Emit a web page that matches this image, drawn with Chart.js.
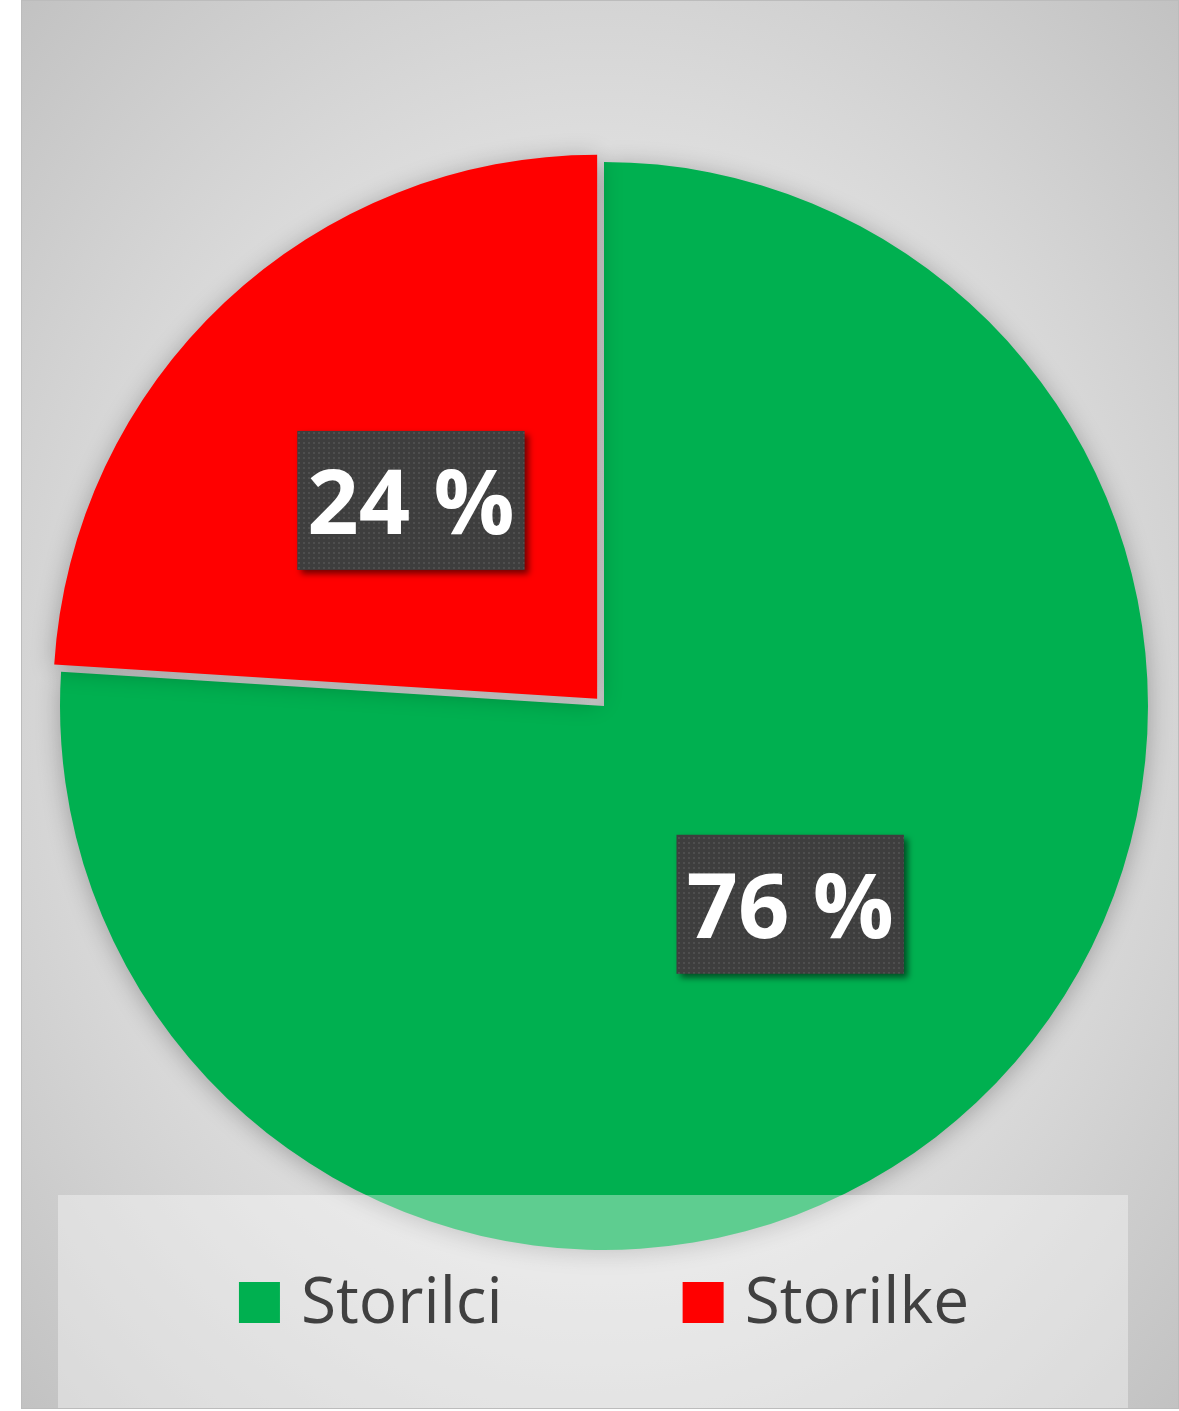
<!DOCTYPE html>
<html>
<head>
<meta charset="utf-8">
<script src="https://cdn.jsdelivr.net/npm/chart.js@4.4.1/dist/chart.umd.min.js"></script>
<style>
  html, body { margin: 0; padding: 0; background: #fff; }
  #frame {
    position: absolute; left: 21px; top: 0; width: 1158px; height: 1409px;
    box-sizing: border-box; border: 1px solid #bcbcbc;
    background: radial-gradient(ellipse farthest-corner at 50% 50%, #e9e9e9 0%, #e1e1e1 50%, #c2c2c2 100%);
  }
  #wrap { position: absolute; left: 0; top: 0; width: 1156px; height: 1407px; }
</style>
</head>
<body>
<div id="frame"><div id="wrap"><canvas id="pieChart"></canvas></div></div>
<script>
const categories = ['Storilci', 'Storilke'];
const shares = [76, 24];
const sliceColors = ['#00b050', '#ff0000'];
const sliceOffsets = [0, 40];

// small dotted tile for the label boxes
function makeDots() {
    const tile = document.createElement('canvas');
    tile.width = 5; tile.height = 5;
    const g = tile.getContext('2d');
    g.fillStyle = '#3e3e3e';
    g.fillRect(0, 0, 5, 5);
    g.fillStyle = '#4e4e4e';
    g.fillRect(1, 1, 2, 2);
    return tile;
}

// soft shadow under the pie
const pieShadow = {
    id: 'pieShadow',
    beforeDatasetsDraw(chart) {
        const c = chart.ctx;
        c.save();
        c.shadowColor = 'rgba(0,0,0,0.28)';
        c.shadowBlur = 24;
        c.shadowOffsetY = 3;
    },
    afterDatasetsDraw(chart) {
        chart.ctx.restore();
    }
};

// dark boxes with the percentages
const pctLabels = {
    id: 'pctLabels',
    afterDraw(chart) {
        const c = chart.ctx;
        const meta = chart.getDatasetMeta(0);
        const pattern = c.createPattern(makeDots(), 'repeat');
        const fontSize = 90;
        c.save();
        c.font = 'bold ' + fontSize + 'px "Open Sans"';
        meta.data.forEach((arc, i) => {
            const p = arc.getProps(['x', 'y', 'startAngle', 'endAngle', 'outerRadius', 'circumference']);
            const mid = (p.startAngle + p.endAngle) / 2;
            const off = (arc.options.offset || 0) / 4;
            const fix = 1 - Math.sin(Math.min(Math.PI, p.circumference));
            const r = p.outerRadius / 2 + off + off * fix;
            const cx = p.x + Math.cos(mid) * r;
            const cy = p.y + Math.sin(mid) * r;
            const text = shares[i] + ' %';
            const w = c.measureText(text).width + 20;
            const h = 139;

            c.save();
            c.shadowColor = 'rgba(0,0,0,0.55)';
            c.shadowBlur = 6;
            c.shadowOffsetX = 4;
            c.shadowOffsetY = 4;
            c.fillStyle = pattern;
            c.fillRect(cx - w / 2, cy - h / 2, w, h);
            c.restore();

            c.fillStyle = '#ffffff';
            c.textAlign = 'center';
            c.textBaseline = 'alphabetic';
            c.fillText(text, cx, cy + fontSize * 0.37);
        });
        c.restore();
    }
};

// legend sitting over the bottom of the pie
const overlayLegend = {
    id: 'overlayLegend',
    afterDraw(chart) {
        const c = chart.ctx;
        const box = { x: 36, y: 1194, w: 1070, h: 213 };
        c.save();
        c.fillStyle = 'rgba(255,255,255,0.37)';
        c.fillRect(box.x, box.y, box.w, box.h);

        c.font = '64px "Open Sans"';
        const sq = 41, gapText = 21, gapItem = 180;
        const widths = categories.map(t => sq + gapText + c.measureText(t).width);
        const total = widths.reduce((a, b) => a + b, 0) + gapItem * (categories.length - 1);
        const centerX = chart.getDatasetMeta(0).data[0].x;
        let x = centerX - total / 2;
        const baseY = 1322;
        categories.forEach((t, i) => {
            c.fillStyle = sliceColors[i];
            c.fillRect(x, baseY - sq, sq, sq);
            c.fillStyle = '#404040';
            c.textAlign = 'left';
            c.textBaseline = 'alphabetic';
            c.fillText(t, x + sq + gapText, baseY);
            x += widths[i] + gapItem;
        });
        c.restore();
    }
};

new Chart(document.getElementById('pieChart'), {
    type: 'pie',
    data: {
        labels: categories,
        datasets: [{
            data: shares,
            backgroundColor: sliceColors,
            borderWidth: 0,
            offset: sliceOffsets,
            hoverOffset: 0
        }]
    },
    options: {
        responsive: true,
        maintainAspectRatio: false,
        animation: false,
        layout: { padding: { left: 18, right: 10, top: 141, bottom: 138 } },
        plugins: {
            legend: { display: false },
            tooltip: { enabled: false }
        }
    },
    plugins: [pieShadow, pctLabels, overlayLegend]
});
</script>
</body>
</html>
